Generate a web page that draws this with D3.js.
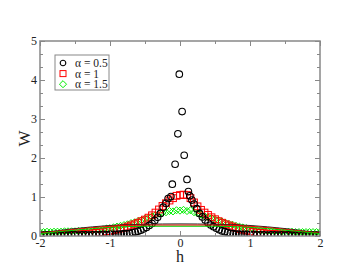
<!DOCTYPE html>
<html>
<head>
<meta charset="utf-8">
<title>W vs h</title>
<style>
  body { margin: 0; background: #fff; }
  text { font-family: "Liberation Serif", "DejaVu Serif", serif; fill: #222; }
</style>
</head>
<body>
<svg id="chart" width="359" height="278"></svg>
<script src="https://cdn.jsdelivr.net/npm/d3@7"></script>
<script>
// alpha = 0.5 (black circles)
var blackH = [-2.00,-1.95,-1.90,-1.85,-1.80,-1.75,-1.70,-1.65,-1.60,-1.55,-1.50,-1.45,-1.40,-1.35,-1.30,-1.25,-1.20,-1.15,-1.10,-1.05,
  -1.00,-0.96,-0.92,-0.88,-0.84,-0.80,-0.76,-0.72,-0.68,-0.64,-0.60,-0.56,-0.52,-0.48,-0.44,-0.40,-0.36,-0.32,-0.28,-0.24,-0.20,-0.17,
  -0.13,-0.11,-0.07,-0.03,-0.01,0.03,0.06,0.10,0.12,0.14,
  0.17,0.20,0.24,0.28,0.32,0.36,0.40,0.44,0.48,0.52,0.56,0.60,0.64,0.68,0.72,0.76,0.80,0.84,0.88,0.92,0.96,
  1.00,1.05,1.10,1.15,1.20,1.25,1.30,1.35,1.40,1.45,1.50,1.55,1.60,1.65,1.70,1.75,1.80,1.85,1.90,1.95,2.00]
var blackW = [0.02,0.02,0.03,0.02,0.02,0.03,0.02,0.03,0.02,0.03,0.03,0.02,0.03,0.03,0.02,0.03,0.03,0.03,0.04,0.03,
  0.04,0.04,0.04,0.05,0.05,0.06,0.06,0.07,0.09,0.10,0.12,0.15,0.18,0.22,0.27,0.32,0.40,0.48,0.58,0.74,0.84,0.96,
  1.01,1.33,1.84,2.62,4.15,3.19,2.07,1.45,1.14,1.03,
  0.92,0.82,0.70,0.58,0.49,0.41,0.34,0.28,0.24,0.20,0.16,0.13,0.11,0.09,0.07,0.06,0.05,0.05,0.04,0.04,0.04,
  0.03,0.04,0.03,0.03,0.03,0.02,0.03,0.03,0.02,0.03,0.02,0.03,0.02,0.02,0.03,0.02,0.02,0.03,0.02,0.02,0.02]

// alpha = 1 (red squares) and alpha = 1.5 (green diamonds)
var gridH = [-2.00,-1.95,-1.90,-1.85,-1.80,-1.75,-1.70,-1.65,-1.60,-1.55,-1.50,-1.45,-1.40,-1.35,-1.30,-1.25,-1.20,-1.15,-1.10,-1.05,
  -1.00,-0.95,-0.90,-0.85,-0.80,-0.75,-0.70,-0.65,-0.60,-0.55,-0.50,-0.45,-0.40,-0.35,-0.30,-0.25,-0.20,-0.15,-0.10,-0.05,
  0.00,0.05,0.10,0.15,0.20,0.25,0.30,0.35,0.40,0.45,0.50,0.55,0.60,0.65,0.70,0.75,0.80,0.85,0.90,0.95,
  1.00,1.05,1.10,1.15,1.20,1.25,1.30,1.35,1.40,1.45,1.50,1.55,1.60,1.65,1.70,1.75,1.80,1.85,1.90,1.95,2.00]
var redW = [0.01,0.01,0.01,0.02,0.02,0.02,0.02,0.03,0.03,0.03,0.04,0.04,0.05,0.05,0.06,0.07,0.08,0.09,0.10,0.12,
  0.13,0.15,0.17,0.19,0.21,0.24,0.27,0.30,0.34,0.38,0.42,0.47,0.53,0.60,0.68,0.77,0.84,0.91,0.97,1.03,
  1.05,1.06,1.05,0.97,0.86,0.76,0.67,0.60,0.54,0.48,0.43,0.38,0.34,0.30,0.27,0.24,0.21,0.18,0.16,0.14,
  0.12,0.10,0.09,0.08,0.07,0.06,0.05,0.05,0.04,0.04,0.03,0.03,0.03,0.02,0.02,0.02,0.02,0.01,0.01,0.01,0.01]
var greenW = [0.10,0.10,0.11,0.10,0.11,0.11,0.11,0.12,0.12,0.12,0.12,0.13,0.13,0.13,0.14,0.14,0.15,0.16,0.17,0.19,
  0.20,0.22,0.24,0.26,0.28,0.30,0.33,0.35,0.38,0.41,0.44,0.47,0.50,0.54,0.57,0.59,0.61,0.64,0.63,0.66,
  0.65,0.67,0.64,0.66,0.61,0.58,0.55,0.51,0.48,0.46,0.43,0.40,0.37,0.34,0.31,0.29,0.26,0.24,0.22,0.20,
  0.18,0.17,0.15,0.14,0.13,0.13,0.12,0.12,0.12,0.11,0.11,0.11,0.11,0.10,0.10,0.10,0.10,0.10,0.10,0.10,0.10]

// broad solid curves
var lineH = [-2, -1.5, -1, -0.5, 0, 0.5, 1, 1.5, 2]
var blackLine = [0.08, 0.19, 0.27, 0.30, 0.31, 0.30, 0.27, 0.19, 0.08]
var redLine = [0.07, 0.17, 0.25, 0.28, 0.28, 0.28, 0.25, 0.17, 0.07]
var greenLine = [0.06, 0.15, 0.22, 0.25, 0.25, 0.25, 0.22, 0.15, 0.06]

var legendLabels = ['α = 0.5', 'α = 1', 'α = 1.5']
var xTicks = [-2, -1, 0, 1, 2]
var yTicks = [0, 1, 2, 3, 4, 5]

var svg = d3.select('#chart')
var pL = 40, pR = 320, pT = 41, pB = 236

var x = d3.scaleLinear().domain([-2, 2]).range([pL, pR])
var y = d3.scaleLinear().domain([0, 5]).range([pB, pT])

svg.append('defs').append('clipPath').attr('id', 'clip')
  .append('rect').attr('x', pL).attr('y', pT)
  .attr('width', pR - pL).attr('height', pB - pT)

var plot = svg.append('g').attr('clip-path', 'url(#clip)')

function pts(hs, ws) {
  return hs.map(function(h, i) { return [h, ws[i]] })
}

var diamond = d3.symbol().type(d3.symbolDiamond2).size(32)

// green diamonds
plot.append('g').selectAll('path')
  .data(pts(gridH, greenW))
  .enter().append('path')
  .attr('d', diamond)
  .attr('transform', function(d) { return 'translate(' + x(d[0]) + ',' + y(d[1]) + ')' })
  .attr('fill', 'none').attr('stroke', '#00ee00').attr('stroke-width', 1)

// red squares
plot.append('g').selectAll('rect')
  .data(pts(gridH, redW))
  .enter().append('rect')
  .attr('x', function(d) { return x(d[0]) - 3.4 })
  .attr('y', function(d) { return y(d[1]) - 3.4 })
  .attr('width', 6.8).attr('height', 6.8)
  .attr('fill', 'none').attr('stroke', '#ff0000').attr('stroke-width', 1)

// black circles
plot.append('g').selectAll('circle')
  .data(pts(blackH, blackW))
  .enter().append('circle')
  .attr('cx', function(d) { return x(d[0]) })
  .attr('cy', function(d) { return y(d[1]) })
  .attr('r', 3.3)
  .attr('fill', 'none').attr('stroke', '#000').attr('stroke-width', 1.1)

var line = d3.line()
  .x(function(d) { return x(d[0]) })
  .y(function(d) { return y(d[1]) })
  .curve(d3.curveMonotoneX)

var curves = [[blackLine, '#222'], [redLine, '#ff0000'], [greenLine, '#00cc00']]
curves.forEach(function(c) {
  plot.append('path')
    .attr('d', line(pts(lineH, c[0])))
    .attr('fill', 'none').attr('stroke', c[1]).attr('stroke-width', 1)
})

// frame and ticks (inward, on all four sides)
var axisColor = '#888'
function styleAxis(g) {
  g.select('.domain').remove()
  g.selectAll('line').attr('stroke', axisColor)
  g.selectAll('text').style('font-size', '12px').attr('fill', '#222')
}
var xMinor = [-1.5, -0.5, 0.5, 1.5]
var yMinor = []
yTicks.slice(0, 5).forEach(function(t) { yMinor.push(t + 1 / 3, t + 2 / 3) })

svg.append('g').attr('transform', 'translate(0,' + pB + ')')
  .call(d3.axisBottom(x).tickValues(xTicks).tickSize(-5).tickPadding(2).tickFormat(String))
  .call(styleAxis)
svg.append('g').attr('transform', 'translate(0,' + pB + ')')
  .call(d3.axisBottom(x).tickValues(xMinor).tickSize(-3).tickFormat(''))
  .call(styleAxis)
svg.append('g').attr('transform', 'translate(0,' + pT + ')')
  .call(d3.axisTop(x).tickValues(xTicks).tickSize(-5).tickFormat(''))
  .call(styleAxis)
svg.append('g').attr('transform', 'translate(0,' + pT + ')')
  .call(d3.axisTop(x).tickValues(xMinor).tickSize(-3).tickFormat(''))
  .call(styleAxis)
svg.append('g').attr('transform', 'translate(' + pL + ',0)')
  .call(d3.axisLeft(y).tickValues(yTicks).tickSize(-5).tickPadding(3).tickFormat(String))
  .call(styleAxis)
svg.append('g').attr('transform', 'translate(' + pL + ',0)')
  .call(d3.axisLeft(y).tickValues(yMinor).tickSize(-3).tickFormat(''))
  .call(styleAxis)
svg.append('g').attr('transform', 'translate(' + pR + ',0)')
  .call(d3.axisRight(y).tickValues(yTicks).tickSize(-5).tickFormat(''))
  .call(styleAxis)
svg.append('g').attr('transform', 'translate(' + pR + ',0)')
  .call(d3.axisRight(y).tickValues(yMinor).tickSize(-3).tickFormat(''))
  .call(styleAxis)

svg.append('rect')
  .attr('x', pL).attr('y', pT)
  .attr('width', pR - pL).attr('height', pB - pT)
  .attr('fill', 'none').attr('stroke', axisColor).attr('stroke-width', 1.5)

// axis titles
svg.append('text')
  .attr('x', x(0)).attr('y', 262)
  .attr('text-anchor', 'middle')
  .style('font-size', '16px')
  .text('h')
svg.append('text')
  .attr('transform', 'translate(30,' + y(2.5) + ') rotate(-90)')
  .attr('text-anchor', 'middle')
  .style('font-size', '17px')
  .text('W')

// legend
var lg = svg.append('g')
lg.append('rect')
  .attr('x', 55).attr('y', 55).attr('width', 54).attr('height', 35)
  .attr('fill', '#fff').attr('stroke', axisColor).attr('stroke-width', 1)
var rows = lg.selectAll('g.row').data(legendLabels)
  .enter().append('g')
  .attr('transform', function(d, i) { return 'translate(63,' + (63 + i * 10.6) + ')' })
rows.append('text')
  .attr('x', 12).attr('y', 4)
  .style('font-size', '11.5px')
  .text(function(d) { return d })
rows.filter(function(d, i) { return i === 0 }).append('circle')
  .attr('r', 2.8).attr('fill', 'none').attr('stroke', '#000').attr('stroke-width', 1.1)
rows.filter(function(d, i) { return i === 1 }).append('rect')
  .attr('x', -3).attr('y', -3).attr('width', 6).attr('height', 6)
  .attr('fill', 'none').attr('stroke', '#ff0000').attr('stroke-width', 1)
rows.filter(function(d, i) { return i === 2 }).append('path')
  .attr('d', diamond)
  .attr('fill', 'none').attr('stroke', '#00ee00').attr('stroke-width', 1)
</script>
</body>
</html>
